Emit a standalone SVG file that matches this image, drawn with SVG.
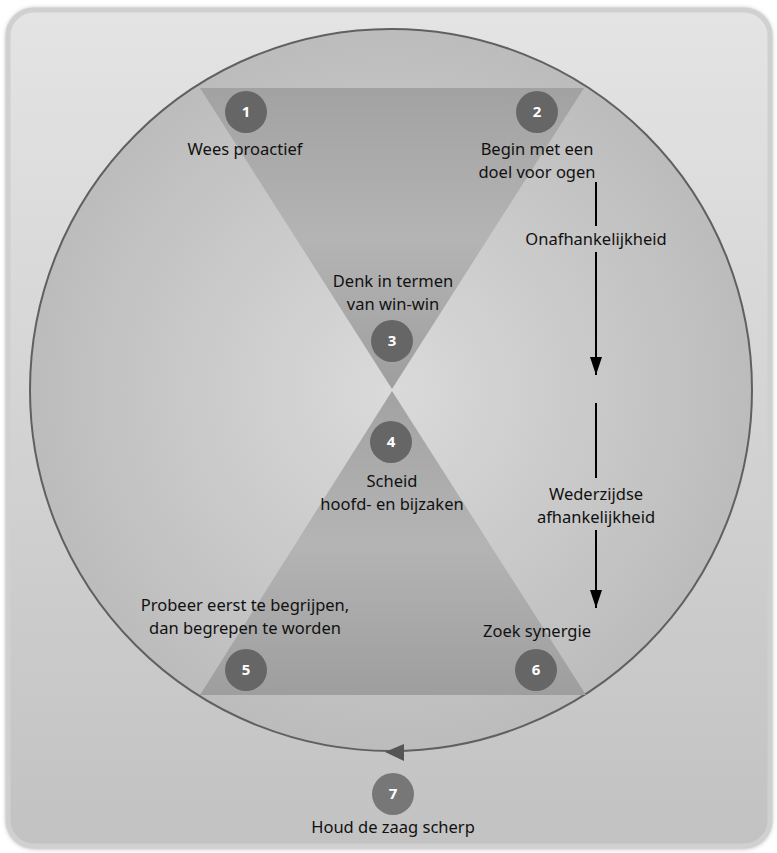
<svg xmlns="http://www.w3.org/2000/svg" width="777" height="853" viewBox="0 0 777 853">
<defs>
<linearGradient id="bg" x1="0" y1="0" x2="0" y2="1">
<stop offset="0" stop-color="#e4e4e4"/>
<stop offset="1" stop-color="#c2c2c2"/>
</linearGradient>
<radialGradient id="disc" cx="0.5" cy="0.5" r="0.5">
<stop offset="0" stop-color="#dadada"/>
<stop offset="1" stop-color="#bcbcbc"/>
</radialGradient>
<linearGradient id="hg" x1="0" y1="0" x2="0" y2="1">
<stop offset="0" stop-color="#a2a2a2"/>
<stop offset="0.5" stop-color="#b4b4b4"/>
<stop offset="1" stop-color="#9e9e9e"/>
</linearGradient>
<marker id="ah" markerWidth="18" markerHeight="12" refX="18" refY="6" orient="auto" markerUnits="userSpaceOnUse" viewBox="0 0 18 12">
<path d="M0,0 L18,6 L0,12 Z" fill="#000"/>
</marker>
<filter id="sh" x="-5%" y="-5%" width="110%" height="110%">
<feGaussianBlur stdDeviation="2"/>
</filter>
</defs>
<style>
text{font-family:"Noto Sans","Open Sans","DejaVu Sans",sans-serif;font-size:16.5px;fill:#111;text-anchor:middle}
.num{fill:#fff;font-weight:bold;font-size:15px}
.nc{fill:#666}
.flow{stroke:#000;stroke-width:2;fill:none}
</style>
<rect x="6" y="8" width="766" height="841" rx="28" fill="#b8b8b8" filter="url(#sh)"/>
<rect x="8" y="10" width="762" height="836" rx="26" fill="url(#bg)" stroke="#d0d0d0" stroke-width="5"/>
<circle cx="391" cy="390" r="361" fill="url(#disc)" stroke="#606060" stroke-width="2"/>
<polygon points="200,88 584,88 392,389" fill="url(#hg)"/>
<polygon points="392,391 200,695 586,695" fill="url(#hg)"/>
<g id="connectors">
<line class="flow" x1="596" y1="182" x2="596" y2="226"/>
<line class="flow" x1="596" y1="252" x2="596" y2="375" marker-end="url(#ah)"/>
<line class="flow" x1="596" y1="403" x2="596" y2="478"/>
<line class="flow" x1="596" y1="530" x2="596" y2="608" marker-end="url(#ah)"/>
<polygon points="385,752 404,744 404,761" fill="#555"/>
</g>
<g id="n1"><circle class="nc" cx="246" cy="112" r="21"/><text class="num" x="246" y="117">1</text><text x="245" y="155">Wees proactief</text></g>
<g id="n2"><circle class="nc" cx="537" cy="112" r="21"/><text class="num" x="537" y="117">2</text><text x="537" y="155">Begin met een</text><text x="537" y="178">doel voor ogen</text></g>
<g id="n3"><circle class="nc" cx="392" cy="341" r="21"/><text class="num" x="392" y="346">3</text><text x="393" y="287">Denk in termen</text><text x="393" y="310">van win-win</text></g>
<g id="n4"><circle class="nc" cx="391" cy="442" r="21"/><text class="num" x="391" y="447">4</text><text x="392" y="487">Scheid</text><text x="392" y="510">hoofd- en bijzaken</text></g>
<g id="n5"><circle class="nc" cx="246" cy="670" r="21"/><text class="num" x="246" y="675">5</text><text x="245" y="611">Probeer eerst te begrijpen,</text><text x="245" y="634">dan begrepen te worden</text></g>
<g id="n6"><circle class="nc" cx="536" cy="670" r="21"/><text class="num" x="536" y="675">6</text><text x="537" y="637">Zoek synergie</text></g>
<g id="n7"><circle cx="393" cy="794" r="21" fill="#777"/><text class="num" x="393" y="799">7</text><text x="393" y="833">Houd de zaag scherp</text></g>
<g id="l1"><text x="596" y="245">Onafhankelijkheid</text></g>
<g id="l2"><text x="596" y="500">Wederzijdse</text><text x="596" y="523">afhankelijkheid</text></g>
</svg>
